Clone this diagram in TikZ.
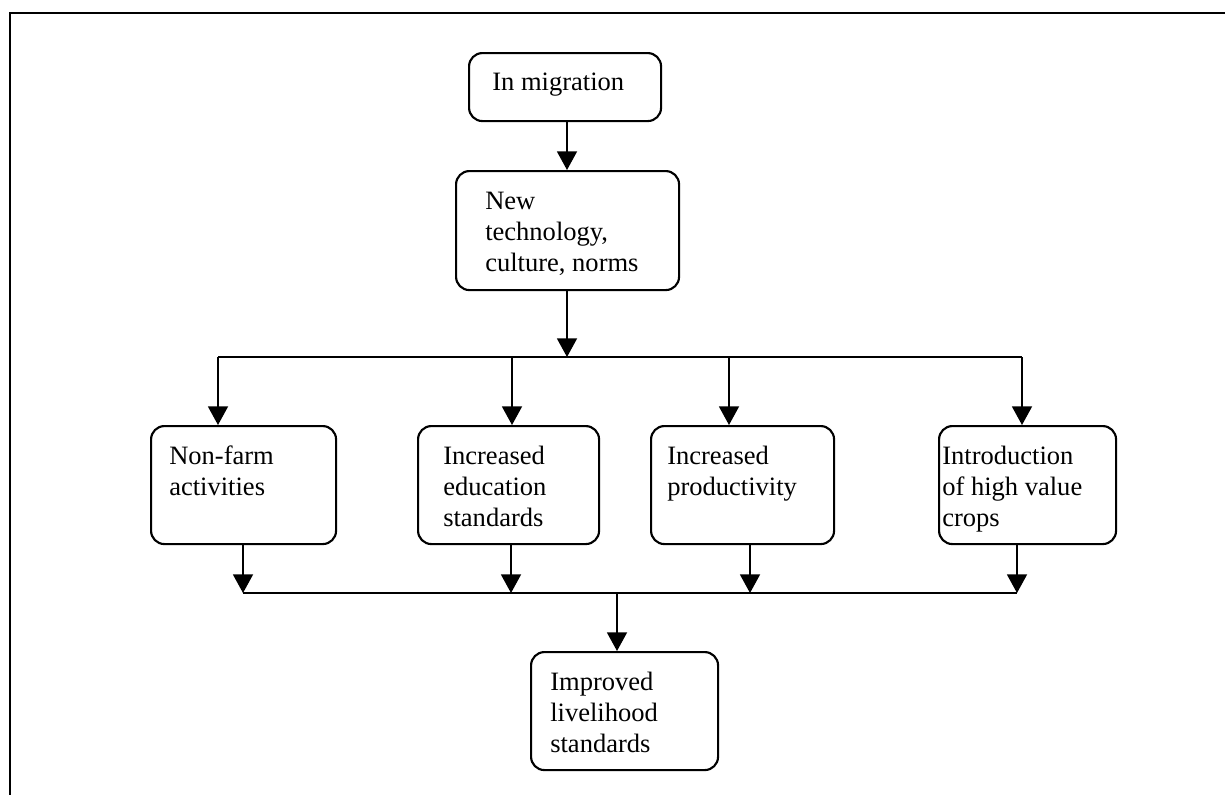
\documentclass[tikz,border=0pt]{standalone}
\usepackage{fontspec}
\setmainfont{Liberation Serif}
\usetikzlibrary{arrows.meta}
\begin{document}
\begin{tikzpicture}[x=0.75pt,y=-0.75pt,
  box/.style={draw, line width=1.6pt, rounded corners=10pt, inner sep=0pt, anchor=north west},
  label/.style={inner sep=0pt, anchor=base west, align=left, font=\fontsize{19.9}{23.25}\selectfont},
  link/.style={line width=1.3pt},
  arr/.style={link, -{Triangle[width=15pt,length=14pt]}}]
\useasboundingbox (0,0) rectangle (1225,794);
% outer frame (top and left sides)
\draw[line width=1.6pt] (1226,13) -- (10,13) -- (10,795);

% boxes: top-left corner, width and height in pixels (1px = 0.75pt)
\node[box, minimum width={192*0.75pt}, minimum height={68*0.75pt}]  (A)  at (468,52)  {};
\node[box, minimum width={223*0.75pt}, minimum height={119*0.75pt}] (B)  at (455,170) {};
\node[box, minimum width={185*0.75pt}, minimum height={118*0.75pt}] (n1) at (150,425) {};
\node[box, minimum width={181*0.75pt}, minimum height={118*0.75pt}] (n2) at (417,425) {};
\node[box, minimum width={183*0.75pt}, minimum height={118*0.75pt}] (n3) at (650,425) {};
\node[box, minimum width={177*0.75pt}, minimum height={118*0.75pt}] (n4) at (938,425) {};
\node[box, minimum width={187*0.75pt}, minimum height={118*0.75pt}] (n5) at (530,651) {};

% box texts, placed by the baseline of their last line
\node[label] (tA)  at (492,90)  {In migration};
\node[label] (tB)  at (485,271) {New\\technology,\\culture, norms};
\node[label] (t1)  at (169,495) {Non-farm\\activities};
\node[label] (t2)  at (443,526) {Increased\\education\\standards};
\node[label] (t3)  at (667,495) {Increased\\productivity};
\node[label] (t4)  at (942,526) {Introduction\\of high value\\crops};
\node[label] (t5)  at (550,752) {Improved\\livelihood\\standards};

% junction points on the two bus lines
\coordinate (s)  at (567,357);
\coordinate (d1) at (218,357);
\coordinate (d2) at (512,357);
\coordinate (d3) at (729,357);
\coordinate (d4) at (1022,357);
\coordinate (u1) at (243,593);
\coordinate (u2) at (511,593);
\coordinate (u3) at (750,593);
\coordinate (u4) at (1017,593);
\coordinate (m)  at (617,593);

% connectors
\draw[arr] (s |- A.south) -- (s |- B.north);
\draw[arr] (s |- B.south) -- (s);
\draw[link] (d1) -- (d4);
\draw[arr] (d1) -- (d1 |- n1.north);
\draw[arr] (d2) -- (d2 |- n2.north);
\draw[arr] (d3) -- (d3 |- n3.north);
\draw[arr] (d4) -- (d4 |- n4.north);
\draw[arr] (u1 |- n1.south) -- (u1);
\draw[arr] (u2 |- n2.south) -- (u2);
\draw[arr] (u3 |- n3.south) -- (u3);
\draw[arr] (u4 |- n4.south) -- (u4);
\draw[link] (u1) -- (u4);
\draw[arr] (m) -- (m |- n5.north);
\end{tikzpicture}
\end{document}
